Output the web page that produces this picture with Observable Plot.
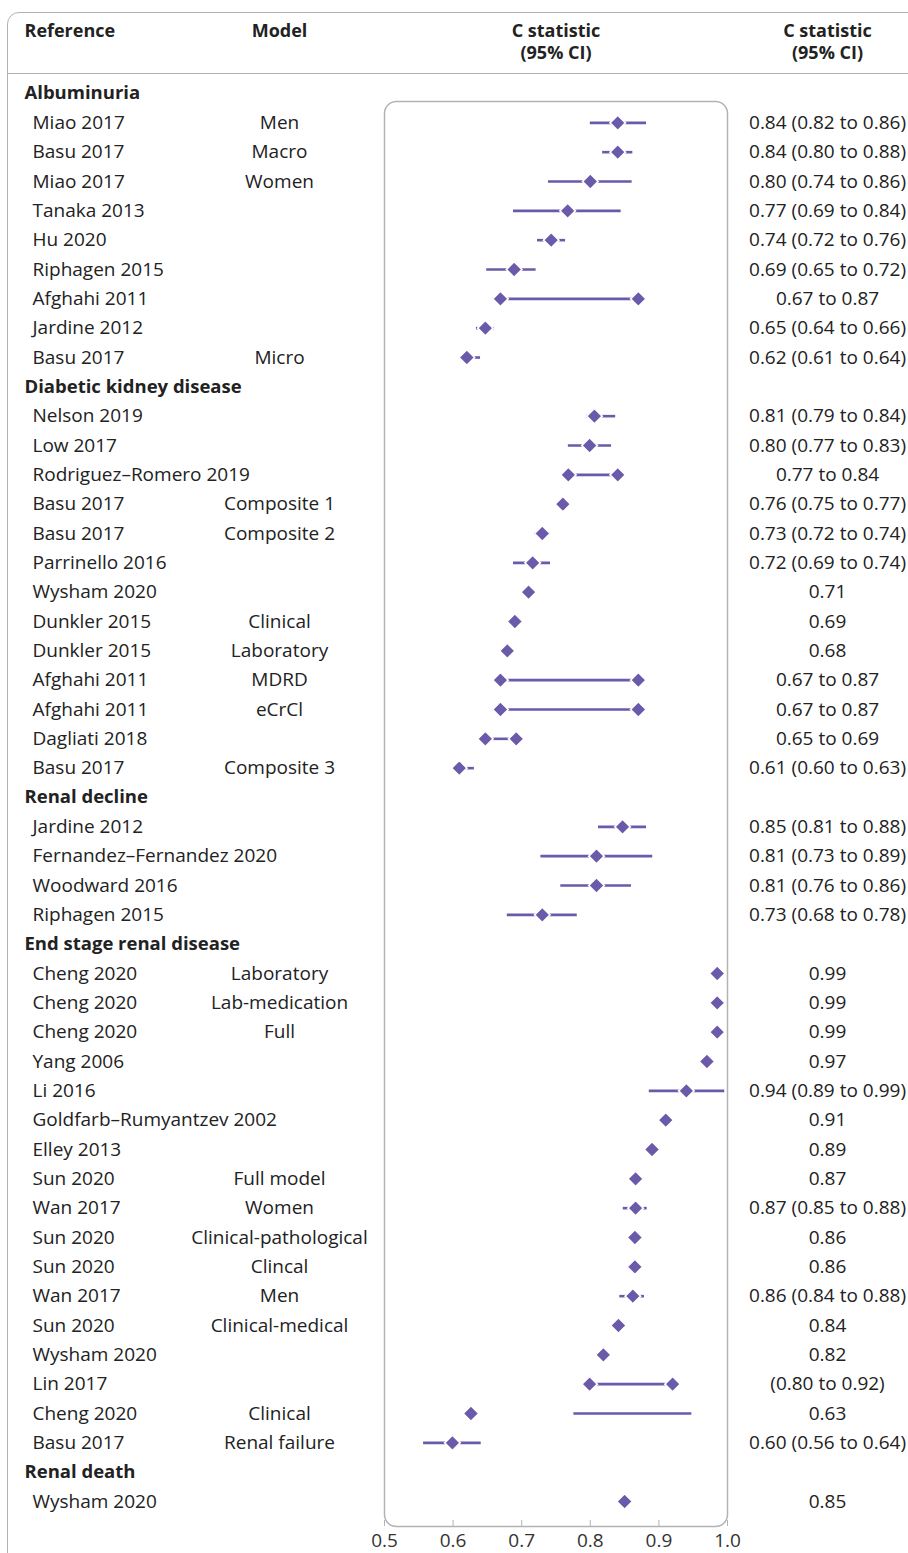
<!DOCTYPE html>
<html>
<head>
<meta charset="utf-8">
<script src="https://cdn.jsdelivr.net/npm/d3@7"></script>
<script src="https://cdn.jsdelivr.net/npm/@observablehq/plot@0.6"></script>
<style>
  html, body { margin: 0; padding: 0; background: #fff; overflow: hidden; }
  #wrap { position: relative; width: 908px; height: 1553px; overflow: hidden; }
  #outer { position: absolute; left: 7px; top: 12px; width: 1100px; height: 1700px;
           border: 1.5px solid #b3b3b3; border-radius: 12px; box-sizing: border-box; }
  #sep { position: absolute; left: 7px; top: 73px; width: 1000px; border-top: 1.5px solid #b3b3b3; }
  #chart { position: absolute; left: 0; top: 0; }
</style>
</head>
<body>
<div id="wrap">
  <div id="outer"></div>
  <div id="sep"></div>
  <div id="chart"></div>
</div>
<script>
const groups = ["Albuminuria", "Diabetic kidney disease", "Renal decline", "End stage renal disease", "Renal death"];
const groupSizes = [9, 13, 4, 17, 1];

const references = [
  "Miao 2017","Basu 2017","Miao 2017","Tanaka 2013","Hu 2020","Riphagen 2015","Afghahi 2011","Jardine 2012","Basu 2017",
  "Nelson 2019","Low 2017","Rodriguez\u2013Romero 2019","Basu 2017","Basu 2017","Parrinello 2016","Wysham 2020","Dunkler 2015","Dunkler 2015","Afghahi 2011","Afghahi 2011","Dagliati 2018","Basu 2017",
  "Jardine 2012","Fernandez\u2013Fernandez 2020","Woodward 2016","Riphagen 2015",
  "Cheng 2020","Cheng 2020","Cheng 2020","Yang 2006","Li 2016","Goldfarb\u2013Rumyantzev 2002","Elley 2013","Sun 2020","Wan 2017","Sun 2020","Sun 2020","Wan 2017","Sun 2020","Wysham 2020","Lin 2017","Cheng 2020","Basu 2017",
  "Wysham 2020"
];
const models = [
  "Men","Macro","Women","","","","","","Micro",
  "","","","Composite 1","Composite 2","","","Clinical","Laboratory","MDRD","eCrCl","","Composite 3",
  "","","","",
  "Laboratory","Lab-medication","Full","","","","","Full model","Women","Clinical-pathological","Clincal","Men","Clinical-medical","","","Clinical","Renal failure",
  ""
];
const estimate = [
  0.840,0.840,0.800,0.767,0.743,0.689,0.669,0.647,0.620,
  0.806,0.799,0.768,0.760,0.730,0.716,0.710,0.690,0.679,0.669,0.669,0.647,0.609,
  0.847,0.809,0.809,0.730,
  0.985,0.985,0.985,0.970,0.940,0.910,0.890,0.866,0.866,0.865,0.865,0.862,0.841,0.819,0.799,0.626,0.599,
  0.850
];
const estimate2 = [
  null,null,null,null,null,null,0.870,null,null,
  null,null,0.840,null,null,null,null,null,null,0.870,0.870,0.692,null,
  null,null,null,null,
  null,null,null,null,null,null,null,null,null,null,null,null,null,null,0.920,null,null,
  null
];
const ciLow = [
  0.800,0.818,0.739,0.688,0.723,0.649,0.669,0.634,0.610,
  0.795,0.768,0.768,0.750,0.719,0.688,null,null,null,0.669,0.669,0.647,0.600,
  0.812,0.728,0.757,0.679,
  null,null,null,null,0.886,null,null,null,0.848,null,null,0.843,null,null,0.799,0.776,0.557,
  null
];
const ciHigh = [
  0.882,0.862,0.861,0.845,0.764,0.721,0.870,0.660,0.640,
  0.837,0.831,0.840,0.770,0.742,0.742,null,null,null,0.870,0.870,0.692,0.631,
  0.882,0.891,0.860,0.781,
  null,null,null,null,0.996,null,null,null,0.883,null,null,0.879,null,null,0.920,0.948,0.641,
  null
];
const ciText = [
  "0.84 (0.82 to 0.86)","0.84 (0.80 to 0.88)","0.80 (0.74 to 0.86)","0.77 (0.69 to 0.84)","0.74 (0.72 to 0.76)","0.69 (0.65 to 0.72)","0.67 to 0.87","0.65 (0.64 to 0.66)","0.62 (0.61 to 0.64)",
  "0.81 (0.79 to 0.84)","0.80 (0.77 to 0.83)","0.77 to 0.84","0.76 (0.75 to 0.77)","0.73 (0.72 to 0.74)","0.72 (0.69 to 0.74)","0.71","0.69","0.68","0.67 to 0.87","0.67 to 0.87","0.65 to 0.69","0.61 (0.60 to 0.63)",
  "0.85 (0.81 to 0.88)","0.81 (0.73 to 0.89)","0.81 (0.76 to 0.86)","0.73 (0.68 to 0.78)",
  "0.99","0.99","0.99","0.97","0.94 (0.89 to 0.99)","0.91","0.89","0.87","0.87 (0.85 to 0.88)","0.86","0.86","0.86 (0.84 to 0.88)","0.84","0.82","(0.80 to 0.92)","0.63","0.60 (0.56 to 0.64)",
  "0.85"
];
const headerLine1 = ["Reference", "Model", "C statistic", "C statistic"];
const headerLine2 = ["", "", "(95% CI)", "(95% CI)"];
const xTicks = [0.5, 0.6, 0.7, 0.8, 0.9, 1.0];

// Build row tables
const yDomain = [];
const headerRows = [];
const rows = [];
let idx = 0;
groups.forEach((g, gi) => {
  yDomain.push("h" + gi);
  headerRows.push({key: "h" + gi, label: g});
  for (let k = 0; k < groupSizes[gi]; k++) {
    const key = "r" + idx;
    yDomain.push(key);
    rows.push({key, ref: references[idx], model: models[idx], est: estimate[idx], est2: estimate2[idx],
               lo: ciLow[idx], hi: ciHigh[idx], text: ciText[idx]});
    idx++;
  }
});
const points = [];
rows.forEach(r => {
  if (r.est != null) points.push({key: r.key, v: r.est});
  if (r.est2 != null) points.push({key: r.key, v: r.est2});
});
const ciRows = rows.filter(r => r.lo != null && r.hi != null);

const purple = "#6a5aa9";
const ink = "#222";
const font = 19;
const boldFont = 18.5;
const headFont = 18;

// header column anchors (offsets from frame edges)
const headerAnchors = [
  {frameAnchor: "top-left", dx: -360, textAnchor: "start"},
  {frameAnchor: "top-left", dx: -105, textAnchor: "middle"},
  {frameAnchor: "top", dx: 0, textAnchor: "middle"},
  {frameAnchor: "top-right", dx: 100, textAnchor: "middle"}
];
const headerMarks = [];
headerAnchors.forEach((a, i) => {
  headerMarks.push(Plot.text([headerLine1[i]], {text: d => d, ...a, lineAnchor: "middle", dy: -70, fontWeight: "bold", fontSize: headFont, fill: ink}));
  if (headerLine2[i]) headerMarks.push(Plot.text([headerLine2[i]], {text: d => d, ...a, lineAnchor: "middle", dy: -48, fontWeight: "bold", fontSize: headFont, fill: ink}));
});

const chart = Plot.plot({
  width: 908,
  height: 1553,
  marginLeft: 384,
  marginRight: 181,
  marginTop: 101,
  marginBottom: 27,
  x: {domain: [0.5, 1.0], range: [384, 727]},
  y: {type: "point", domain: yDomain, range: [93, 1501], padding: 0, round: false, axis: null},
  style: {fontFamily: "'Open Sans', sans-serif", fontSize: "19px", color: ink, background: "transparent", overflow: "visible"},
  marks: [
    Plot.frame({stroke: "#b3b3b3", strokeWidth: 1.5, rx: 12, ry: 12}),
    ...headerMarks,
    // group headers
    Plot.text(headerRows, {y: "key", text: "label", frameAnchor: "left", dx: -360, textAnchor: "start", fontWeight: "bold", fontSize: boldFont, fill: ink}),
    // references
    Plot.text(rows, {y: "key", text: "ref", frameAnchor: "left", dx: -352, textAnchor: "start", fontSize: font, fill: ink}),
    // models
    Plot.text(rows, {y: "key", text: "model", frameAnchor: "left", dx: -105, textAnchor: "middle", fontSize: font, fill: ink}),
    // C statistic text
    Plot.text(rows, {y: "key", text: "text", frameAnchor: "right", dx: 100, textAnchor: "middle", fontSize: font, fill: ink}),
    // CI bars
    Plot.ruleY(ciRows, {y: "key", x1: "lo", x2: "hi", stroke: purple, strokeWidth: 2.6}),
    // diamonds
    Plot.dot(points, {x: "v", y: "key", symbol: "diamond2", r: 7, fill: purple, stroke: "white", strokeWidth: 1.6}),
    // axis
    Plot.axisX({ticks: xTicks, tickSize: 6, dy: -6, tickFormat: () => "", stroke: "#b3b3b3"}),
    Plot.axisX({ticks: xTicks, tickSize: 0, tickPadding: 7, tickFormat: d3.format(".1f"), fontSize: 19, fill: "#333"})
  ]
});
document.getElementById("chart").appendChild(chart);
</script>
</body>
</html>
